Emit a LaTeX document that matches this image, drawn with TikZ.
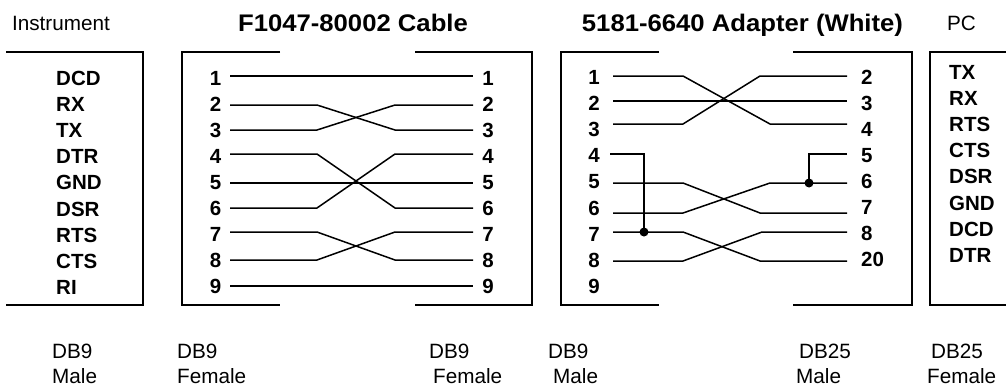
\documentclass[tikz,border=0pt]{standalone}
\usepackage{fontspec}
\setmainfont{Liberation Sans}
\begin{document}
\begin{tikzpicture}[x=1pt,y=-1pt,
  box/.style={line width=2.9pt, line join=miter},
  wire/.style={line width=1.5pt},
  pinlbl/.style={font=\fontsize{20.5}{20}\selectfont\bfseries, inner sep=0pt},
  plain/.style={font=\fontsize{20.7}{21}\selectfont, inner sep=0pt, anchor=base west},
  ttl/.style={font=\fontsize{24}{24}\selectfont\bfseries, inner sep=0pt, anchor=base},
  jdot/.style={circle, fill=black, inner sep=0pt, minimum size=9pt}
]
\useasboundingbox (0,0) rectangle (1006,386);

% titles
\node[plain, anchor=base] (tinst) at (61,30) {Instrument};
\node[ttl] (tcable) at (353,31) {\scalebox{1.07}[1]{F1047-80002 Cable}};
\node[ttl] (tadapt) at (742.5,31) {\scalebox{1.07}[1]{5181-6640 Adapter (White)}};
\node[plain, anchor=base] (tpc) at (961.5,30) {PC};

% connector boxes
\draw[box] (6,52) -- (143,52) -- (143,305) -- (6,305);
\draw[box] (280,52) -- (182,52) -- (182,305) -- (280,305);
\draw[box] (415,52) -- (532,52) -- (532,305) -- (415,305);
\draw[box] (659,52) -- (561,52) -- (561,305) -- (659,305);
\draw[box] (793,52) -- (912,52) -- (912,305) -- (793,305);
\draw[box] (1006,52) -- (930,52) -- (930,305) -- (1006,305);

% instrument signals
\foreach \s [count=\k] in {DCD,RX,TX,DTR,GND,DSR,RTS,CTS,RI}
  \node[pinlbl, anchor=base west] (ins\k) at (56,{85.5+26.1*(\k-1)}) {\s};

% PC signals
\foreach \s [count=\k] in {TX,RX,RTS,CTS,DSR,GND,DCD,DTR}
  \node[pinlbl, anchor=base west] (pc\k) at (949,{79.5+26.1*(\k-1)}) {\s};

% cable and adapter pin numbers
\foreach \k in {1,...,9} {
  \node[pinlbl, anchor=base] (cpl\k) at (215.5,{85+26.1*(\k-1)}) {\k};
  \node[pinlbl, anchor=base] (cpr\k) at (488,{85+26.1*(\k-1)}) {\k};
  \node[pinlbl, anchor=base] (apl\k) at (594,{84.5+26.1*(\k-1)}) {\k};
}
\foreach \p [count=\k] in {2,3,4,5,6,7,8,20}
  \node[pinlbl, anchor=base west] (apr\k) at (861,{84+26.1*(\k-1)}) {\p};

% cable wire end points
\foreach \y [count=\k] in {76,105,130,154,183,208,232,260,286} {
  \coordinate (cl\k) at (230,\y);
  \coordinate (cr\k) at (473,\y);
}
\draw[wire] (cl1) -- (cr1);
\draw[wire] (cl2) -- ++(87,0) -- ([xshift=-78pt]cr3) -- (cr3);
\draw[wire] (cl3) -- ++(87,0) -- ([xshift=-78pt]cr2) -- (cr2);
\draw[wire] (cl4) -- ++(87,0) -- ([xshift=-78pt]cr6) -- (cr6);
\draw[wire] (cl5) -- (cr5);
\draw[wire] (cl6) -- ++(87,0) -- ([xshift=-78pt]cr4) -- (cr4);
\draw[wire] (cl7) -- ++(87,0) -- ([xshift=-78pt]cr8) -- (cr8);
\draw[wire] (cl8) -- ++(87,0) -- ([xshift=-78pt]cr7) -- (cr7);
\draw[wire] (cl9) -- (cr9);

% adapter wire end points
\foreach \y [count=\k] in {76,101,124,154,183,213,232,261} {
  \coordinate (al\k) at (613,\y);
  \coordinate (ar\k) at (847,\y);
}
\coordinate (al4s) at (610,154);
\node[jdot] (dotl) at (644,232) {};
\node[jdot] (dotr) at (809,183) {};
\draw[wire] (al1) -- ++(70,0) -- ([xshift=-77pt]ar3) -- (ar3);
\draw[wire] (al2) -- (ar2);
\draw[wire] (al3) -- ++(70,0) -- ([xshift=-87pt]ar1) -- (ar1);
\draw[wire] (al4s) -| (dotl.center);
\draw[wire] (al5) -- ++(70,0) -- ([xshift=-87pt]ar6) -- (ar6);
\draw[wire] (al6) -- ++(70,0) -- ([xshift=-77pt]ar5) -- (ar5);
\draw[wire] (al7) -- ++(70,0) -- ([xshift=-87pt]ar8) -- (ar8);
\draw[wire] (al8) -- ++(70,0) -- ([xshift=-85pt]ar7) -- (ar7);
\draw[wire] (ar4) -| (dotr.center);

% connector type labels
\node[plain] (g1a) at (52,358) {DB9};
\node[plain] (g1b) at (52,383) {Male};
\node[plain] (g2a) at (177,358) {DB9};
\node[plain] (g2b) at (177,383) {Female};
\node[plain] (g3a) at (429,358) {DB9};
\node[plain] (g3b) at (433,383) {Female};
\node[plain] (g4a) at (548,358) {DB9};
\node[plain] (g4b) at (553,383) {Male};
\node[plain] (g5a) at (799,358) {DB25};
\node[plain] (g5b) at (796,383) {Male};
\node[plain] (g6a) at (931,358) {DB25};
\node[plain] (g6b) at (927,383) {Female};
\end{tikzpicture}
\end{document}
